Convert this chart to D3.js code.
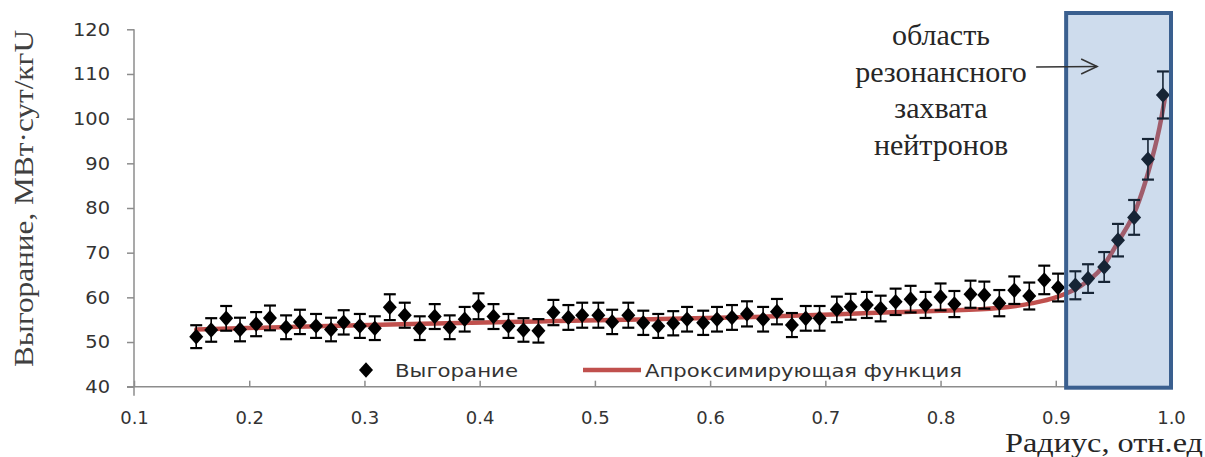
<!DOCTYPE html>
<html>
<head>
<meta charset="utf-8">
<script src="https://cdn.jsdelivr.net/npm/d3@7"></script>
<style>
  body { margin: 0; background: #fff; }
  svg { display: block; }
</style>
</head>
<body>
<svg id="chart" width="1205" height="457"></svg>
<script>
// Burnup across the fuel pellet radius (relative units)
const radius = [0.154, 0.167, 0.180, 0.192, 0.206, 0.218, 0.232, 0.244, 0.258, 0.271,
                0.282, 0.296, 0.309, 0.322, 0.335, 0.348, 0.361, 0.374, 0.387, 0.399,
                0.412, 0.425, 0.438, 0.451, 0.464, 0.477, 0.489, 0.503, 0.515, 0.529,
                0.542, 0.555, 0.568, 0.580, 0.594, 0.606, 0.619, 0.632, 0.646, 0.658,
                0.671, 0.683, 0.695, 0.710, 0.722, 0.736, 0.748, 0.761, 0.774, 0.787,
                0.800, 0.812, 0.826, 0.838, 0.851, 0.864, 0.877, 0.890, 0.902, 0.917,
                0.928, 0.942, 0.954, 0.968, 0.980, 0.993];
const burnup = [51.2, 52.7, 55.3, 52.8, 54.0, 55.4, 53.3, 54.5, 53.6, 52.8,
                54.4, 53.6, 53.1, 57.8, 56.0, 53.1, 55.7, 53.3, 55.1, 58.0,
                55.7, 53.6, 52.7, 52.5, 56.6, 55.5, 56.0, 56.0, 54.5, 56.0,
                54.3, 53.6, 54.2, 55.1, 54.3, 55.1, 55.5, 56.3, 55.1, 56.8,
                53.8, 55.3, 55.3, 57.3, 57.9, 58.3, 57.5, 59.0, 59.6, 58.3,
                60.1, 58.5, 60.7, 60.5, 58.7, 61.6, 60.3, 63.9, 62.2, 62.7,
                64.2, 66.8, 72.8, 77.9, 90.9, 105.3];

// Approximating curve, sampled along the radius
const fitRadius = [0.154, 0.25, 0.35, 0.45, 0.55, 0.65, 0.75, 0.80, 0.85, 0.88,
                   0.90, 0.92, 0.94, 0.955, 0.97, 0.98, 0.99, 0.995];
const fitBurnup = [52.8, 53.5, 54.1, 54.6, 55.1, 55.7, 56.6, 57.0, 57.6, 58.7,
                   60.0, 62.3, 66.6, 72.8, 80.0, 87.8, 98.0, 105.0];

const xTicks = [0.1, 0.2, 0.3, 0.4, 0.5, 0.6, 0.7, 0.8, 0.9, 1.0];
const yTicks = [40, 50, 60, 70, 80, 90, 100, 110, 120];

const errorPercent = 5;                 // error bars: ±5 % of the value
const regionRange = [0.909, 1.0];       // resonance capture zone
const regionLines = ["область", "резонансного", "захвата", "нейтронов"];
const legendLabels = ["Выгорание", "Апроксимирующая функция"];
const yTitle = "Выгорание, МВт·сут/кгU";
const xTitle = "Радиус, отн.ед";

const svg = d3.select("#chart");
const sans = "'DejaVu Sans', Verdana, sans-serif";
const serif = "'Liberation Serif', 'Times New Roman', serif";
const axisColor = "#8c8c8c";
const labelColor = "#333333";
const fitColor = "#c0504d";

const x = d3.scaleLinear().domain([0.1, 1.0]).range([134, 1171]);
const y = d3.scaleLinear().domain([40, 120]).range([386.7, 29.3]);

// widen glyphs horizontally by a factor k
function stretchX(sel, k) {
  sel.each(function () {
    const w = this.getComputedTextLength();
    this.setAttribute("textLength", w * k);
    this.setAttribute("lengthAdjust", "spacingAndGlyphs");
  });
}

// ---- axes ----
const gy = svg.append("g").attr("transform", `translate(${x(0.1)},0)`)
  .call(d3.axisLeft(y).tickValues(yTicks).tickSizeInner(7).tickSizeOuter(0).tickPadding(17));
gy.select(".domain").remove();
gy.selectAll(".tick line").attr("stroke", axisColor).attr("stroke-width", 1.5);
gy.selectAll(".tick text").attr("fill", labelColor).style("font", `18px ${sans}`);
stretchX(gy.selectAll(".tick text"), 1.08);

const gx = svg.append("g").attr("transform", `translate(0,${y(40)})`)
  .call(d3.axisBottom(x).tickValues(xTicks).tickFormat(d3.format(".1f"))
    .tickSizeInner(-6).tickSizeOuter(0).tickPadding(25));
gx.select(".domain").remove();
gx.selectAll(".tick line").attr("stroke", axisColor).attr("stroke-width", 1.5);
gx.selectAll(".tick text").attr("fill", labelColor).style("font", `18px ${sans}`);

svg.append("line")
  .attr("x1", x(0.1)).attr("x2", x(0.1)).attr("y1", y(120)).attr("y2", y(40) + 9)
  .attr("stroke", axisColor).attr("stroke-width", 1.5);
svg.append("line")
  .attr("x1", x(0.1) - 7).attr("x2", x(1.0)).attr("y1", y(40)).attr("y2", y(40))
  .attr("stroke", axisColor).attr("stroke-width", 1.5);

// ---- approximating curve ----
const fitPts = fitRadius.map((r, i) => [r, fitBurnup[i]]);
svg.append("path")
  .datum(fitPts)
  .attr("fill", "none").attr("stroke", fitColor).attr("stroke-width", 4.5)
  .attr("stroke-linecap", "round")
  .attr("d", d3.line().x(d => x(d[0])).y(d => y(d[1])).curve(d3.curveMonotoneX));

// ---- measured points with error bars ----
const pts = radius.map((r, i) => ({ r, v: burnup[i] }));
const diamond = "M0,-7.8L7,0L0,7.8L-7,0Z";
const pg = svg.append("g").selectAll("g").data(pts).join("g")
  .attr("transform", d => `translate(${x(d.r)},0)`);
pg.append("line")
  .attr("y1", d => y(d.v * (1 + errorPercent / 100)))
  .attr("y2", d => y(d.v * (1 - errorPercent / 100)))
  .attr("stroke", "#000").attr("stroke-width", 1.6);
[1, -1].forEach(s => {
  pg.append("line")
    .attr("x1", -6).attr("x2", 6)
    .attr("y1", d => y(d.v * (1 + s * errorPercent / 100)))
    .attr("y2", d => y(d.v * (1 + s * errorPercent / 100)))
    .attr("stroke", "#000").attr("stroke-width", 2.2);
});
pg.append("path")
  .attr("d", diamond)
  .attr("transform", d => `translate(0,${y(d.v)})`)
  .attr("fill", "#000");

// ---- legend ----
const legY = 370;
svg.append("path").attr("d", diamond).attr("transform", `translate(366,${legY})`).attr("fill", "#000");
svg.append("text").attr("x", 395).attr("y", legY + 6.5)
  .attr("fill", labelColor).style("font", `18px ${sans}`)
  .attr("textLength", 123).attr("lengthAdjust", "spacingAndGlyphs")
  .text(legendLabels[0]);
svg.append("line").attr("x1", 583).attr("x2", 641).attr("y1", legY).attr("y2", legY)
  .attr("stroke", fitColor).attr("stroke-width", 4.5);
svg.append("text").attr("x", 645).attr("y", legY + 6.5)
  .attr("fill", labelColor).style("font", `18px ${sans}`)
  .attr("textLength", 317).attr("lengthAdjust", "spacingAndGlyphs")
  .text(legendLabels[1]);

// ---- resonance capture zone ----
svg.append("rect")
  .attr("x", x(regionRange[0])).attr("y", 13)
  .attr("width", x(regionRange[1]) - x(regionRange[0]))
  .attr("height", y(40) + 1 - 13)
  .attr("fill", "rgba(79,129,189,0.28)")
  .attr("stroke", "#3a5f8f").attr("stroke-width", 4);

const note = svg.append("text")
  .attr("text-anchor", "middle").attr("fill", "#262626")
  .style("font", `30px ${serif}`);
regionLines.forEach((t, i) => {
  note.append("tspan").attr("x", 941).attr("y", 45 + i * 36.5).text(t);
});

const ax0 = x(regionRange[0]) - 30, ax1 = x(regionRange[0]) + 31, ay = 66.5;
svg.append("line").attr("x1", ax0).attr("x2", ax1).attr("y1", ay + 0.5).attr("y2", ay)
  .attr("stroke", "#333").attr("stroke-width", 1.5);
svg.append("polyline")
  .attr("points", `${ax1 - 16},${ay - 7.5} ${ax1},${ay} ${ax1 - 16},${ay + 7.5}`)
  .attr("fill", "none").attr("stroke", "#333").attr("stroke-width", 1.5);

// ---- axis titles ----
svg.append("text")
  .attr("transform", "translate(33,198.5) rotate(-90)")
  .attr("text-anchor", "middle").attr("fill", "#404040")
  .style("font", `28px ${serif}`)
  .attr("textLength", 337).attr("lengthAdjust", "spacingAndGlyphs")
  .text(yTitle);

svg.append("text")
  .attr("x", 1203).attr("y", 452)
  .attr("text-anchor", "end").attr("fill", "#262626")
  .style("font", `27px ${serif}`)
  .attr("textLength", 198).attr("lengthAdjust", "spacingAndGlyphs")
  .text(xTitle);
</script>
</body>
</html>
